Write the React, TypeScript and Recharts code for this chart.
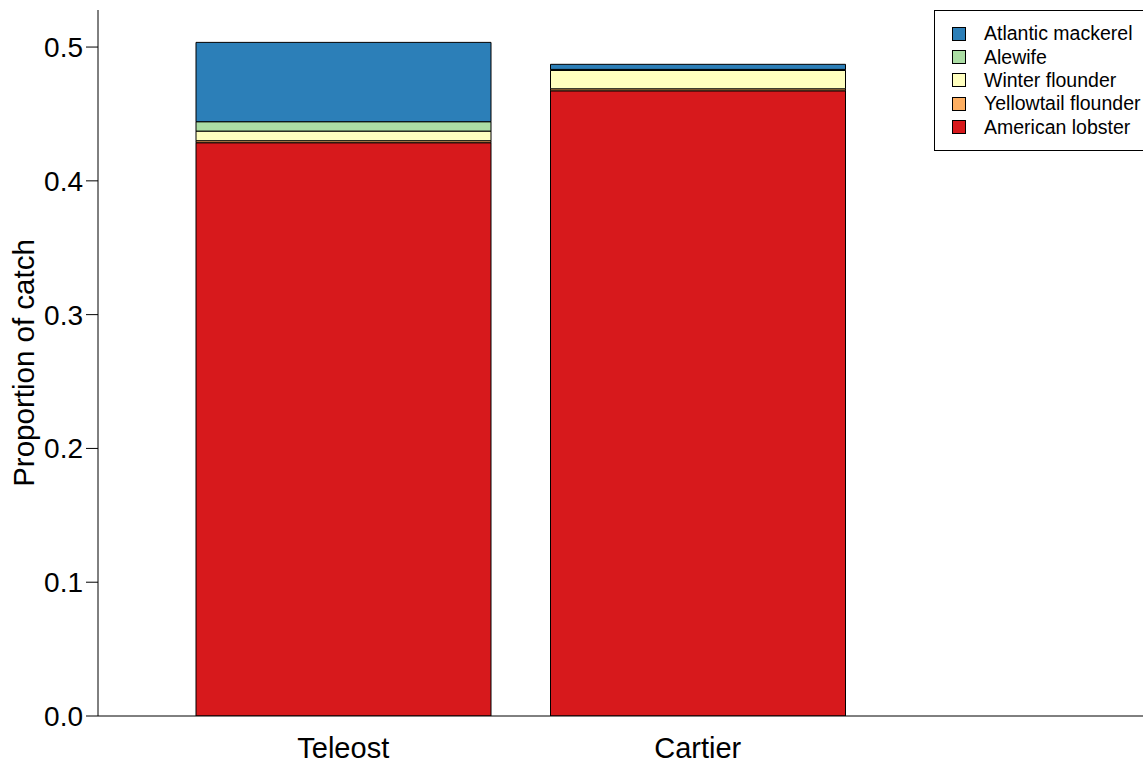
import { Bar, BarChart, Label, XAxis, YAxis } from "recharts";

const sites = ["Teleost", "Cartier"];
// stacking order, bottom to top
const species = [
  "American lobster",
  "Yellowtail flounder",
  "Winter flounder",
  "Alewife",
  "Atlantic mackerel",
];
const colors = ["#d7191c", "#fdae61", "#ffffbf", "#abdda4", "#2c7fb8"];

const lobster = [0.4285, 0.4673];
const yellowtail = [0.0015, 0.0015];
const winter = [0.0072, 0.0137];
const alewife = [0.007, 0.0008];
const mackerel = [0.0593, 0.0038];

const yTicks = [0, 0.1, 0.2, 0.3, 0.4, 0.5];

const font = "'Liberation Sans', Arial, Helvetica, sans-serif";

const series = [lobster, yellowtail, winter, alewife, mackerel];
const data = sites.map((site, i) => {
  const row: Record<string, string | number> = { site };
  species.forEach((name, k) => {
    row[name] = series[k][i];
  });
  return row;
});

function LegendBox() {
  const items = species.map((name, k) => ({ name, color: colors[k] })).reverse();
  return (
    <div
      style={{
        position: "absolute",
        left: 934,
        top: 10,
        width: 240,
        height: 141,
        border: "1px solid #000",
        background: "#fff",
        fontFamily: font,
        fontSize: 19.5,
        boxSizing: "border-box",
        paddingTop: 11,
      }}
    >
      {items.map((it) => (
        <div
          key={it.name}
          style={{ display: "flex", alignItems: "center", height: 23.4, whiteSpace: "nowrap" }}
        >
          <span
            style={{
              display: "inline-block",
              width: 12,
              height: 12,
              marginLeft: 17,
              marginRight: 18,
              background: it.color,
              border: "1px solid #000",
            }}
          />
          <span>{it.name}</span>
        </div>
      ))}
    </div>
  );
}

export default function App() {
  return (
    <div
      style={{
        position: "absolute",
        left: 0,
        top: 0,
        width: 1143,
        height: 765,
        overflow: "hidden",
        background: "#fff",
      }}
    >
      <BarChart
        width={1200}
        height={765}
        data={data}
        margin={{ top: 10, right: 0, bottom: 0, left: 0 }}
      >
        <XAxis
          dataKey="site"
          height={49}
          padding={{ left: 68, right: 325 }}
          stroke="#000"
          tickLine={false}
          tickSize={0}
          tickMargin={21}
          axisLine={{ stroke: "#000", strokeWidth: 1 }}
          tick={{ fill: "#000", fontSize: 29, fontFamily: font }}
        />
        <YAxis
          width={98}
          domain={[0, 0.5277]}
          allowDataOverflow
          ticks={yTicks}
          tickFormatter={(v: number) => v.toFixed(1)}
          stroke="#000"
          tickSize={12}
          tickMargin={3}
          axisLine={{ stroke: "#000", strokeWidth: 1 }}
          tickLine={{ stroke: "#000", strokeWidth: 1 }}
          tick={{ fill: "#000", fontSize: 28, fontFamily: font }}
        >
          <Label
            value="Proportion of catch"
            angle={-90}
            position="center"
            dx={-25}
            style={{ fill: "#000", fontSize: 29.5, fontFamily: font }}
          />
        </YAxis>
        {species.map((name, k) => (
          <Bar
            key={name}
            dataKey={name}
            stackId="catch"
            barSize={295}
            fill={colors[k]}
            stroke="#000"
            strokeWidth={1}
            isAnimationActive={false}
          />
        ))}
      </BarChart>
      <LegendBox />
    </div>
  );
}
